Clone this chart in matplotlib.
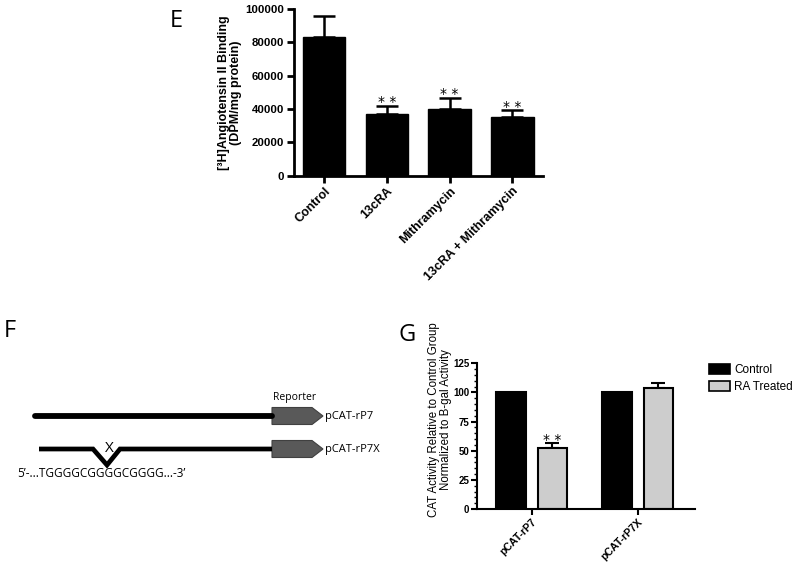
import matplotlib
matplotlib.use("Agg")
import matplotlib.pyplot as plt
from matplotlib.patches import Polygon, Patch
from matplotlib.ticker import MultipleLocator

# ---------------- data ----------------
e_categories = ["Control", "13cRA", "Mithramycin", "13cRA + Mithramycin"]
e_values = [83500, 37200, 40000, 35500]
e_err = [12300, 4800, 6600, 3700]
e_sig = ["", "* *", "* *", "* *"]

g_groups = ["pCAT-rP7", "pCAT-rP7X"]
g_control = [100, 100]
g_ra = [52, 104]
g_control_err = [0, 0]
g_ra_err = [4.5, 4.0]
g_sig = ["* *", ""]
g_series = ["Control", "RA Treated"]

# diagram (panel F) geometry in pixel coordinates
f_line1_x = [35, 272]
f_line1_y = [416, 416]
f_line2_x = [39, 93, 107, 120, 272]
f_line2_y = [449, 449, 465, 449, 449]
f_arrow_rows = [416, 449]
f_arrow_labels = ["pCAT-rP7", "pCAT-rP7X"]
f_sequence = "5\u2019-...TGGGGCGGGGCGGGG...-3\u2019"

W, H = 800, 569
fig = plt.figure(figsize=(W / 100, H / 100), dpi=100)
BOLD = "Liberation Sans"
LET = "Open Sans"

# ---------------- panel F (diagram) ----------------
axf = fig.add_axes([0, 0, 1, 1], zorder=0)
axf.set_xlim(0, W)
axf.set_ylim(H, 0)
axf.axis("off")
axf.plot(f_line1_x, f_line1_y, color="black", lw=4.2, solid_capstyle="round")
axf.plot(f_line2_x, f_line2_y, color="black", lw=3.4, solid_joinstyle="miter",
         solid_capstyle="butt")
for yc, lab in zip(f_arrow_rows, f_arrow_labels):
    pts = [(272, yc - 8.5), (312, yc - 8.5), (323, yc), (312, yc + 8.5), (272, yc + 8.5)]
    axf.add_patch(Polygon(pts, closed=True, facecolor="#595959", edgecolor="#404040", lw=0.8))
    axf.text(325, yc, lab, fontsize=8, family=LET, va="center", ha="left")
axf.text(273, 397, "Reporter", fontsize=7.5, family=LET, va="center", ha="left")
axf.text(109, 448, "X", fontsize=11, family=LET, va="center", ha="center")
axf.text(17, 473, f_sequence, fontsize=8.5, family=LET, va="center", ha="left")

# panel letters
fig.text(170 / W, 1 - 21 / H, "E", fontsize=17, family=LET, va="center", ha="left")
fig.text(4 / W, 1 - 331 / H, "F", fontsize=17, family=LET, va="center", ha="left")
fig.text(399 / W, 1 - 335 / H, "G", fontsize=17, family=LET, va="center", ha="left")

# ---------------- panel E ----------------
axe = fig.add_axes([294 / W, 1 - 175.7 / H, 249 / W, (175.7 - 9) / H])
xe = list(range(len(e_categories)))
axe.bar(xe, e_values, width=0.68, color="black", edgecolor="black", zorder=2)
axe.errorbar(xe, e_values, yerr=[[0] * len(xe), e_err], fmt="none", ecolor="black",
             elinewidth=1.8, capsize=7.6, capthick=1.8, zorder=1)
for x, v, er, s in zip(xe, e_values, e_err, e_sig):
    if s:
        axe.annotate(s, (x, v + er), xytext=(0, -2.5), textcoords="offset points",
                     ha="center", va="bottom", fontsize=10, family="DejaVu Sans")
axe.set_xlim(-0.48, 3.49)
axe.set_ylim(0, 100000)
axe.set_yticks([0, 20000, 40000, 60000, 80000, 100000])
axe.set_xticks(xe)
axe.set_xticklabels(e_categories, rotation=45, ha="right", rotation_mode="anchor")
for sp in ["top", "right"]:
    axe.spines[sp].set_visible(False)
for sp in ["left", "bottom"]:
    axe.spines[sp].set_linewidth(2)
axe.tick_params(axis="both", direction="out", length=5, width=2, pad=2)
for lab in axe.get_xticklabels():
    lab.set_fontfamily(BOLD)
    lab.set_fontweight("bold")
    lab.set_fontsize(9)
for lab in axe.get_yticklabels():
    lab.set_fontfamily(BOLD)
    lab.set_fontweight("bold")
    lab.set_fontsize(8.2)
axe.set_ylabel("[\u00b3H]Angiotensin II Binding\n(DPM/mg protein)", fontsize=9,
               family=BOLD, fontweight="bold", linespacing=1.0)
axe.yaxis.set_label_coords(-0.209, 0.5)

# ---------------- panel G ----------------
axg = fig.add_axes([477 / W, 1 - 509 / H, 218 / W, (509 - 363.3) / H])
xg = list(range(len(g_groups)))
off = 0.195
bw = 0.275
axg.bar([x - off for x in xg], g_control, width=bw, color="black", edgecolor="black",
        lw=1.5, label=g_series[0], zorder=2)
axg.bar([x + off for x in xg], g_ra, width=bw, color="#cdcdcd", edgecolor="black",
        lw=1.5, label=g_series[1], zorder=2)
axg.errorbar([x + off for x in xg], g_ra, yerr=[[0] * len(xg), g_ra_err], fmt="none",
             ecolor="black", elinewidth=1.5, capsize=4.7, capthick=1.5, zorder=1)
for x, v, er, s in zip(xg, g_ra, g_ra_err, g_sig):
    if s:
        axg.annotate(s, (x + off, v + er), xytext=(0, -2.5), textcoords="offset points",
                     ha="center", va="bottom", fontsize=10, family="DejaVu Sans")
axg.set_xlim(-0.516, 1.54)
axg.set_ylim(0, 125)
axg.yaxis.set_major_locator(MultipleLocator(25))
axg.yaxis.set_minor_locator(MultipleLocator(5))
axg.set_xticks(xg)
axg.set_xticklabels(g_groups, rotation=45, ha="right", rotation_mode="anchor")
for sp in ["top", "right"]:
    axg.spines[sp].set_visible(False)
for sp in ["left", "bottom"]:
    axg.spines[sp].set_linewidth(1.5)
axg.tick_params(axis="both", which="major", direction="out", length=4, width=1.5, pad=1.5)
axg.tick_params(axis="y", which="minor", direction="out", length=2.2, width=1.0)
for lab in axg.get_xticklabels():
    lab.set_fontfamily(BOLD)
    lab.set_fontweight("bold")
    lab.set_fontsize(7.6)
for lab in axg.get_yticklabels():
    lab.set_fontfamily(BOLD)
    lab.set_fontweight("bold")
    lab.set_fontsize(7)
axg.set_ylabel("CAT Activity Relative to Control Group\nNormalized to B-gal Activity",
               fontsize=8.3, family=BOLD, linespacing=1.0)
axg.yaxis.set_label_coords(-0.115, 0.611)

handles = [Patch(facecolor="black", edgecolor="black", lw=1.2),
           Patch(facecolor="#cdcdcd", edgecolor="black", lw=1.2)]
fig.legend(handles, g_series, loc="upper left", bbox_to_anchor=(709 / W, 1 - 364 / H),
           bbox_transform=fig.transFigure, frameon=False, borderpad=0, borderaxespad=0,
           handlelength=1.75, handleheight=0.9, handletextpad=0.4, labelspacing=0.45,
           prop={"family": BOLD, "size": 8.5})

fig.savefig("out.png", dpi=100)
